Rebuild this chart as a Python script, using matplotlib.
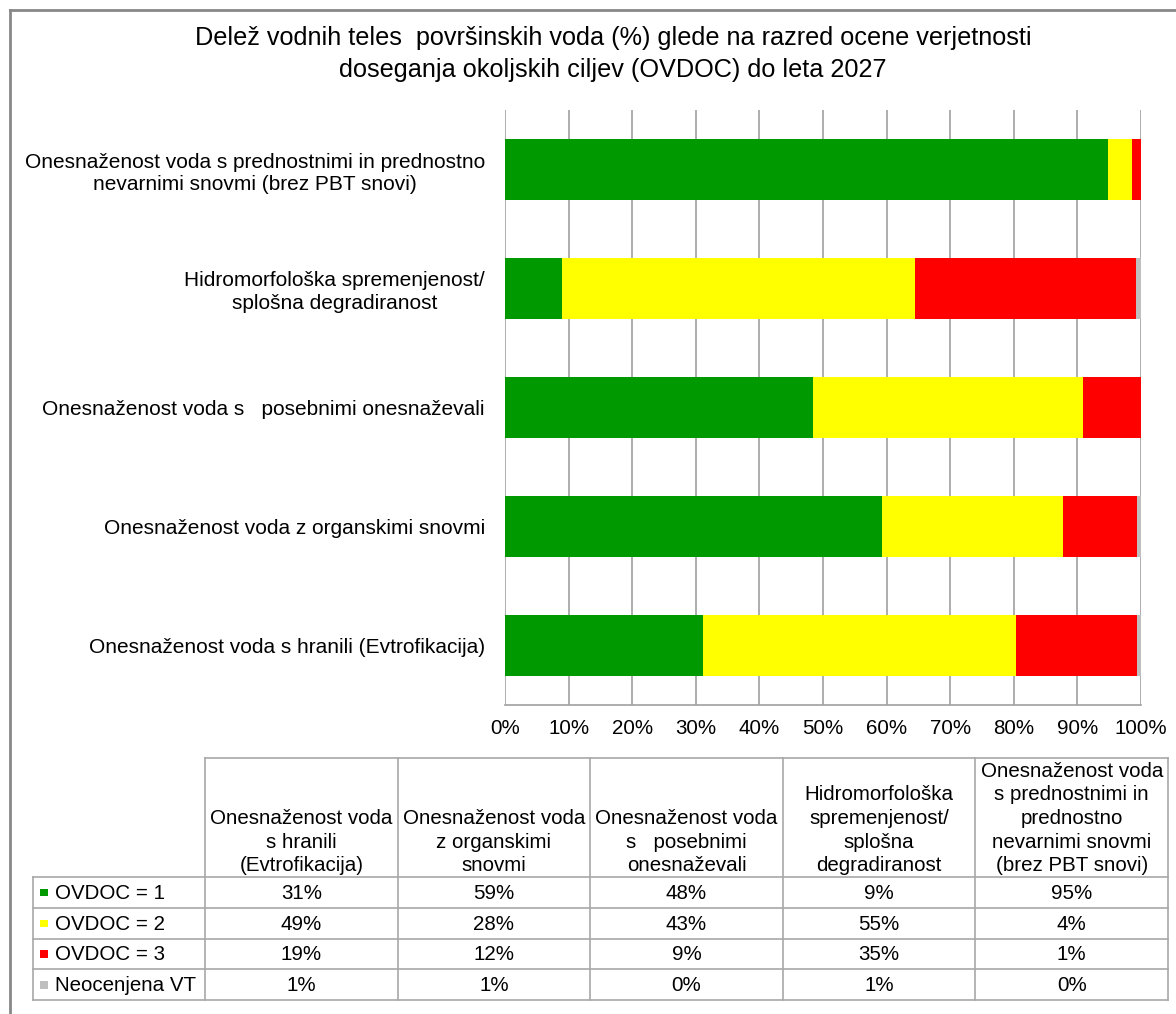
import matplotlib
matplotlib.use("Agg")
import matplotlib.pyplot as plt
from matplotlib.patches import Rectangle

plt.rcParams['font.family'] = ['Liberation Sans', 'DejaVu Sans']

# ---------------- data ----------------
categories = [
    "Onesnaženost voda s hranili (Evtrofikacija)",
    "Onesnaženost voda z organskimi snovmi",
    "Onesnaženost voda s   posebnimi onesnaževali",
    "Hidromorfološka spremenjenost/\nsplošna degradiranost",
    "Onesnaženost voda s prednostnimi in prednostno\nnevarnimi snovmi (brez PBT snovi)",
]
table_headers = [
    "Onesnaženost voda\ns hranili\n(Evtrofikacija)",
    "Onesnaženost voda\nz organskimi\nsnovmi",
    "Onesnaženost voda\ns   posebnimi\nonesnaževali",
    "Hidromorfološka\nspremenjenost/\nsplošna\ndegradiranost",
    "Onesnaženost voda\ns prednostnimi in\nprednostno\nnevarnimi snovmi\n(brez PBT snovi)",
]
series_names = ["OVDOC = 1", "OVDOC = 2", "OVDOC = 3", "Neocenjena VT"]
series_colors = ["#009900", "#FFFF00", "#FF0000", "#BFBFBF"]

ovdoc1 = [31.1, 59.3, 48.4, 8.9, 94.8]
ovdoc2 = [49.3, 28.4, 42.5, 55.5, 3.8]
ovdoc3 = [18.9, 11.6, 9.1, 34.8, 1.4]
neocenjena = [0.7, 0.7, 0.0, 0.8, 0.0]

table_ovdoc1 = ["31%", "59%", "48%", "9%", "95%"]
table_ovdoc2 = ["49%", "28%", "43%", "55%", "4%"]
table_ovdoc3 = ["19%", "12%", "9%", "35%", "1%"]
table_neocenjena = ["1%", "1%", "0%", "1%", "0%"]

x_ticks = [0, 10, 20, 30, 40, 50, 60, 70, 80, 90, 100]
title = "Delež vodnih teles  površinskih voda (%) glede na razred ocene verjetnosti\ndoseganja okoljskih ciljev (OVDOC) do leta 2027"

# ---------------- figure ----------------
W, H = 1176, 1014
fig = plt.figure(figsize=(W / 100, H / 100), dpi=100)
fig.patch.set_facecolor("white")

# overlay axes in pixel coordinates (for frame, title and table)
pax = fig.add_axes([0, 0, 1, 1])
pax.set_xlim(0, W)
pax.set_ylim(H, 0)
pax.axis("off")

FS = 14.8

# chart axes
x0, x1, y0, y1 = 505, 1141, 110, 705
ax = fig.add_axes([x0 / W, 1 - y1 / H, (x1 - x0) / W, (y1 - y0) / H])
series = [ovdoc1, ovdoc2, ovdoc3, neocenjena]
ypos = list(range(len(categories)))
left = [0.0] * len(categories)
for vals, col, name in zip(series, series_colors, series_names):
    ax.barh(ypos, vals, left=left, height=0.51, color=col, label=name, zorder=3)
    left = [l + v for l, v in zip(left, vals)]

ax.set_xlim(0, 100)
ax.set_ylim(-0.5, len(categories) - 0.5)
ax.set_xticks(x_ticks)
ax.set_xticklabels([f"{t}%" for t in x_ticks], fontsize=FS)
ax.set_yticks(ypos)
ax.set_yticklabels(categories, fontsize=15, linespacing=1.25, multialignment="center")
ax.tick_params(axis="x", length=0, pad=10)
ax.tick_params(axis="y", length=0, pad=14.5)
ax.grid(axis="x", color="#A0A0A0", linewidth=1.2, zorder=0)
for s in ["top", "right", "left"]:
    ax.spines[s].set_visible(False)
ax.spines["bottom"].set_color("#A0A0A0")
ax.spines["bottom"].set_linewidth(1.2)
ax.set_facecolor("none")

# frame
pax.plot([10, 10], [10, H + 5], color="#888888", lw=2)
pax.plot([10, W + 5], [10, 10], color="#888888", lw=2)

# title
pax.text(613, 54, title, ha="center", va="center", fontsize=18.2, linespacing=1.4)

# table
tcol = "#A8A8A8"
tl, tx0, tx1 = 33, 205, 1168
ty0, ty_h, ty1 = 758, 877, 1000
ncol = len(categories)
cw = (tx1 - tx0) / ncol
rh = (ty1 - ty_h) / 4
lw = 1.2
pax.plot([tx0, tx1], [ty0, ty0], color=tcol, lw=lw)
for i in range(ncol + 1):
    xx = tx0 + i * cw
    pax.plot([xx, xx], [ty0, ty1], color=tcol, lw=lw)
pax.plot([tl, tl], [ty_h, ty1], color=tcol, lw=lw)
for r in range(5):
    yy = ty_h + r * rh
    pax.plot([tl, tx1], [yy, yy], color=tcol, lw=lw)

for i, hdr in enumerate(table_headers):
    pax.text(tx0 + (i + 0.5) * cw, ty_h - 2, hdr, ha="center", va="bottom",
             fontsize=FS, linespacing=1.3)

rows = [table_ovdoc1, table_ovdoc2, table_ovdoc3, table_neocenjena]
for r, (name, col, vals) in enumerate(zip(series_names, series_colors, rows)):
    yc = ty_h + (r + 0.5) * rh
    pax.add_patch(Rectangle((40, yc - 3.5), 7.5, 7.5, facecolor=col, edgecolor="none"))
    pax.text(55, yc + 1, name, ha="left", va="center", fontsize=FS)
    for i, v in enumerate(vals):
        pax.text(tx0 + (i + 0.5) * cw, yc + 1, v, ha="center", va="center", fontsize=FS)

fig.savefig("out.png", dpi=100, facecolor="white")
